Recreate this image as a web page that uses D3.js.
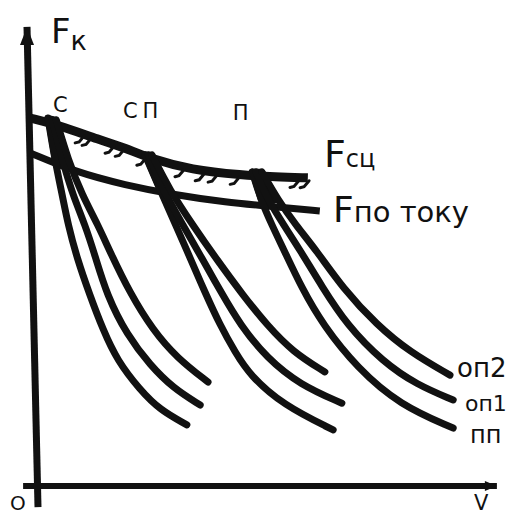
<!DOCTYPE html>
<html>
<head>
<meta charset="utf-8">
<script src="https://cdn.jsdelivr.net/npm/d3@7/dist/d3.min.js"></script>
<style>
  html, body { margin: 0; padding: 0; background: #fff; }
  svg { display: block; }
  text { font-family: "DejaVu Sans", "Liberation Sans", sans-serif; fill: #111; }
</style>
</head>
<body>
<svg id="chart" width="513" height="517"></svg>
<script>
// Traction characteristics Fк(V): three motor groupings (С, СП, П),
// each with full field (пп) and two field-weakening steps (оп1, оп2),
// bounded by the adhesion limit Fсц and the current limit Fпо току.

// [V, F] pairs, arbitrary units
const limitAdhesion = [[0, 80.0], [6.1, 78.5], [15.2, 75.2], [20.7, 73.5], [25.7, 71.3],
  [35.2, 68.7], [46.1, 67.6], [53.3, 67.2], [60.4, 67.0]];
const limitCurrent = [[0, 72.4], [9.8, 68.3], [20.7, 65.4], [31.5, 63.3], [42.4, 61.7],
  [53.3, 60.7], [63.0, 59.8]];

// group С
const curveS_pp = [[3.9, 80.0], [5.4, 70.9], [7.0, 63.3], [8.3, 56.7], [10.2, 49.6], [13.0, 41.5],
  [15.9, 33.9], [18.9, 27.4], [23.9, 20.9], [28.3, 16.5], [34.1, 13.3]];
const curveS_op1 = [[4.8, 79.6], [7.0, 70.9], [9.3, 63.3], [12.0, 56.7], [14.1, 50.2], [16.7, 41.5],
  [21.1, 32.8], [26.1, 26.3], [31.1, 21.3], [37.0, 17.6]];
const curveS_op2 = [[5.7, 79.6], [8.3, 70.9], [11.3, 63.3], [14.8, 56.7], [17.4, 50.9], [21.7, 42.0],
  [26.7, 33.9], [32.0, 27.8], [38.7, 22.6]];

// group СП
const curveSP_pp = [[25.0, 72.0], [28.3, 64.3], [31.7, 56.7], [34.8, 49.6], [38.0, 42.2], [41.3, 35.0],
  [44.6, 29.1], [47.8, 24.1], [55.0, 17.6], [65.9, 12.2]];
const curveSP_op1 = [[25.7, 72.0], [28.9, 64.3], [33.3, 56.7], [37.6, 49.1], [41.5, 42.2], [45.7, 35.0],
  [51.5, 27.8], [58.7, 22.0], [67.8, 18.0]];
const curveSP_op2 = [[26.5, 72.0], [30.4, 64.3], [35.4, 56.7], [40.7, 49.1], [46.3, 41.5], [51.5, 35.0],
  [57.2, 29.1], [64.1, 24.8]];

// group П
const curveP_pp = [[48.3, 68.3], [50.2, 62.2], [52.6, 56.7], [55.2, 51.3], [59.1, 43.0], [63.7, 35.0],
  [71.1, 25.7], [80.4, 17.6], [92.0, 12.6]];
const curveP_op1 = [[49.1, 68.3], [51.7, 62.2], [55.2, 56.7], [58.7, 51.3], [63.5, 43.3], [68.9, 35.0],
  [76.7, 27.0], [84.1, 22.0], [92.0, 18.7]];
const curveP_op2 = [[50.4, 68.3], [53.9, 62.2], [57.8, 56.7], [62.2, 51.3], [68.0, 43.0], [75.4, 35.0],
  [82.6, 29.1], [91.3, 24.1]];

const groupLabels = ["С", "СП", "П"];
const groupLabelV = [5.0, 20.2, 44.1];
const fieldLabels = ["оп2", "оп1", "пп"];

// hatch marks under the adhesion limit
const hatchV = [10.9, 12.4, 17.4, 19.6, 24.3, 32.6, 37.0, 39.8, 44.6, 57.6, 59.8];

// axes (drawn freehand, with a slight lean)
const axisVertical = [[-0.65, 99.8], [1.74, -4.6]];
const axisHorizontal = [[-1.5, 0], [101.5, 0]];

const svg = d3.select("#chart");
const x = d3.scaleLinear().domain([0, 100]).range([30, 490]);
const y = d3.scaleLinear().domain([0, 100]).range([486, 26]);
const ink = "#111";

const line = d3.line().x(d => x(d[0])).y(d => y(d[1])).curve(d3.curveBasis);
const straight = d3.line().x(d => x(d[0])).y(d => y(d[1]));

// axes
svg.append("path").attr("d", straight(axisVertical))
  .attr("stroke", ink).attr("stroke-width", 7).attr("fill", "none");
svg.append("path").attr("d", straight(axisHorizontal))
  .attr("stroke", ink).attr("stroke-width", 6).attr("fill", "none");
{
  const tx = x(axisVertical[0][0]), ty = y(axisVertical[0][1]);
  svg.append("path").attr("d", `M${tx},${ty} L${tx - 7},${ty + 18} L${tx + 7},${ty + 18} Z`).attr("fill", ink);
  const hx = x(axisHorizontal[1][0]), hy = y(axisHorizontal[1][1]);
  svg.append("path").attr("d", `M${hx},${hy} L${hx - 12},${hy - 5} L${hx - 12},${hy + 5} Z`).attr("fill", ink);
}

// limit lines
svg.append("path").attr("d", line(limitAdhesion))
  .attr("stroke", ink).attr("stroke-width", 9).attr("fill", "none").attr("stroke-linecap", "butt");
svg.append("path").attr("d", line(limitCurrent))
  .attr("stroke", ink).attr("stroke-width", 7).attr("fill", "none").attr("stroke-linecap", "butt");

const adhesionAt = d3.scaleLinear()
  .domain(limitAdhesion.map(d => d[0])).range(limitAdhesion.map(d => d[1]));
svg.append("g").selectAll("path").data(hatchV).join("path")
  .attr("d", v => {
    const px = x(v), py = y(adhesionAt(v));
    return `M${px + 4},${py + 3} L${px - 1},${py + 9} L${px - 5},${py + 10}`;
  })
  .attr("stroke", ink).attr("stroke-width", 3).attr("fill", "none").attr("stroke-linecap", "round");

// characteristic curves
const groups = [
  [curveS_pp, curveS_op1, curveS_op2],
  [curveSP_pp, curveSP_op1, curveSP_op2],
  [curveP_pp, curveP_op1, curveP_op2]
];

groups.forEach(g => {
  // heavy ink where the three curves meet between the limit lines
  const pp = g[0], op2 = g[2];
  const blob = [...pp.slice(0, 2), ...op2.slice(0, 2).reverse()];
  svg.append("path").attr("d", straight(blob) + "Z").attr("fill", ink)
    .attr("stroke", ink).attr("stroke-width", 6).attr("stroke-linejoin", "round");
  g.forEach(c => {
    svg.append("path").attr("d", line(c))
      .attr("stroke", ink).attr("stroke-width", 7).attr("fill", "none")
      .attr("stroke-linecap", "round");
  });
});

// labels
const fk = svg.append("text").attr("x", 51).attr("y", 43);
fk.append("tspan").text("F").style("font-size", "34px");
fk.append("tspan").text("к").style("font-size", "27px").attr("dy", 7);

svg.append("g").selectAll("text").data(groupLabels).join("text")
  .attr("x", (d, i) => x(groupLabelV[i]))
  .attr("y", (d, i) => [112, 118, 120][i])
  .attr("letter-spacing", (d, i) => i === 1 ? 5 : 0)
  .style("font-size", "21px")
  .text(d => d);

const fsc = svg.append("text").attr("x", 324).attr("y", 167);
fsc.append("tspan").text("F").style("font-size", "38px");
fsc.append("tspan").text("сц").style("font-size", "24px");

const fcur = svg.append("text").attr("x", 333).attr("y", 222);
fcur.append("tspan").text("F").style("font-size", "36px");
fcur.append("tspan").text("по току").style("font-size", "29px");

svg.append("g").selectAll("text").data(fieldLabels).join("text")
  .attr("x", (d, i) => [457, 465, 470][i])
  .attr("y", (d, i) => [377, 411, 443][i])
  .style("font-size", (d, i) => ["26px", "22px", "24px"][i])
  .text(d => d);

svg.append("text").attr("x", 10).attr("y", 510).style("font-size", "20px").text("O");
svg.append("text").attr("x", 474).attr("y", 510).style("font-size", "21px").text("V");
</script>
</body>
</html>
